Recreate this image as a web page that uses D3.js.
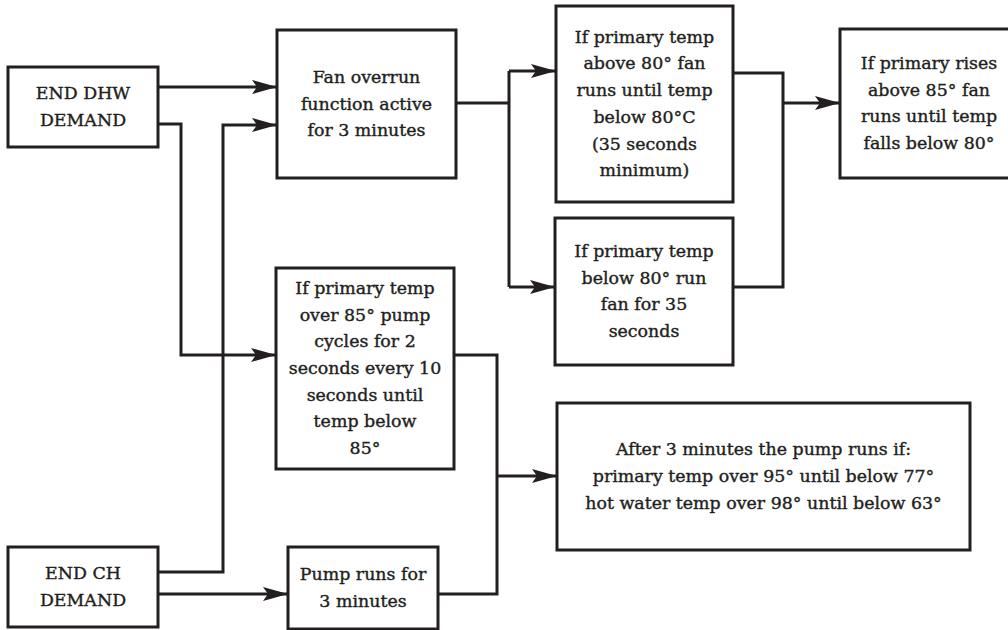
<!DOCTYPE html>
<html><head><meta charset="utf-8">
<script src="https://cdn.jsdelivr.net/npm/d3@7"></script>
<style>html,body{margin:0;padding:0;background:#fff;}svg{display:block;}</style>
</head><body>
<svg id="c" width="1008" height="630"></svg>
<script>
// ---- content ----
const nodeIds = ["dhw","ch","fan","above80","below80","rises85","cycle85","pump3","after3"];
const nodeLabels = [
  ["END DHW","DEMAND"],
  ["END CH","DEMAND"],
  ["Fan overrun","function active","for 3 minutes"],
  ["If primary temp","above 80° fan","runs until temp","below 80°C","(35 seconds","minimum)"],
  ["If primary temp","below 80° run","fan for 35","seconds"],
  ["If primary rises","above 85° fan","runs until temp","falls below 80°"],
  ["If primary temp","over 85° pump","cycles for 2","seconds every 10","seconds until","temp below","85°"],
  ["Pump runs for","3 minutes"],
  ["After 3 minutes the pump runs if:","primary temp over 95° until below 77°","hot water temp over 98° until below 63°"]
];
// connections
const edgeFrom = ["dhw","dhw","ch","ch","fan","fan","above80","below80","cycle85","pump3"];
const edgeTo   = ["fan","cycle85","fan","pump3","above80","below80","rises85","rises85","after3","after3"];

// ---- layout (geometry only) ----
const box = {
  dhw:     {x:8,   y:67,  w:150, h:80},
  ch:      {x:8,   y:547, w:150, h:80},
  fan:     {x:277, y:30,  w:179, h:148},
  above80: {x:556, y:6,   w:177, h:196},
  below80: {x:555, y:218, w:178, h:147},
  rises85: {x:840, y:29,  w:178, h:149},
  cycle85: {x:276, y:268, w:178, h:201},
  pump3:   {x:288, y:547, w:150, h:82},
  after3:  {x:557, y:403, w:413, h:147}
};
const lane = {dhwDown:181, chUp:223, fanSplit:509, fanMerge:783, pumpMerge:497};
const port = {dhwTop:87, dhwLow:124, chTop:572, chLow:594, fanIn2:125};

const ink = "#231f20";
const svg = d3.select("#c");
const defs = svg.append("defs");
defs.append("marker").attr("id","ah").attr("markerUnits","userSpaceOnUse")
  .attr("viewBox","0 0 25 14").attr("refX",25).attr("refY",7)
  .attr("markerWidth",25).attr("markerHeight",14).attr("orient","auto")
  .append("path").attr("d","M0,0 L25,7 L0,14 L5,7 Z").attr("fill",ink);

const line = d3.line().x(d=>d[0]).y(d=>d[1]);
const R = id => box[id].x + box[id].w, L = id => box[id].x;

const paths = [
  {p:[[R("dhw"),port.dhwTop],[L("fan"),port.dhwTop]], a:true},
  {p:[[R("dhw"),port.dhwLow],[lane.dhwDown,port.dhwLow],[lane.dhwDown,355],[L("cycle85"),355]], a:true},
  {p:[[R("ch"),port.chTop],[lane.chUp,port.chTop],[lane.chUp,port.fanIn2],[L("fan"),port.fanIn2]], a:true},
  {p:[[R("ch"),port.chLow],[L("pump3"),port.chLow]], a:true},
  {p:[[R("fan"),103],[lane.fanSplit,103]], a:false},
  {p:[[lane.fanSplit,71],[lane.fanSplit,287]], a:false},
  {p:[[lane.fanSplit,71],[L("above80"),71]], a:true},
  {p:[[lane.fanSplit,287],[L("below80"),287]], a:true},
  {p:[[R("above80"),73],[lane.fanMerge,73],[lane.fanMerge,287],[R("below80"),287]], a:false},
  {p:[[lane.fanMerge,103],[L("rises85"),103]], a:true},
  {p:[[R("cycle85"),355],[lane.pumpMerge,355],[lane.pumpMerge,594],[R("pump3"),594]], a:false},
  {p:[[lane.pumpMerge,476],[L("after3"),476]], a:true}
];

svg.append("g").selectAll("path").data(paths).join("path")
  .attr("d",d=>line(d.p)).attr("fill","none").attr("stroke",ink)
  .attr("stroke-width",3).attr("stroke-linejoin","miter")
  .attr("marker-end",d=>d.a?"url(#ah)":null);

const nodes = nodeIds.map((id,i)=>({id, lines:nodeLabels[i], ...box[id]}));
const g = svg.append("g").selectAll("g").data(nodes).join("g");
g.append("rect").attr("x",d=>d.x).attr("y",d=>d.y).attr("width",d=>d.w).attr("height",d=>d.h)
  .attr("fill","#fff").attr("stroke",ink).attr("stroke-width",3);
const LH = 26.7;
g.each(function(d){
  const n = d.lines.length, cy = d.y + d.h/2;
  d3.select(this).selectAll("text").data(d.lines).join("text")
    .attr("x", d.x + d.w/2)
    .attr("y",(t,i)=> cy + (i-(n-1)/2)*LH + 5.5)
    .attr("text-anchor","middle")
    .attr("font-family","'DejaVu Serif', serif")
    .attr("font-size",17.4)
    .attr("fill",ink).attr("stroke",ink).attr("stroke-width",0.4)
    .text(t=>t);
});
</script>
</body></html>
